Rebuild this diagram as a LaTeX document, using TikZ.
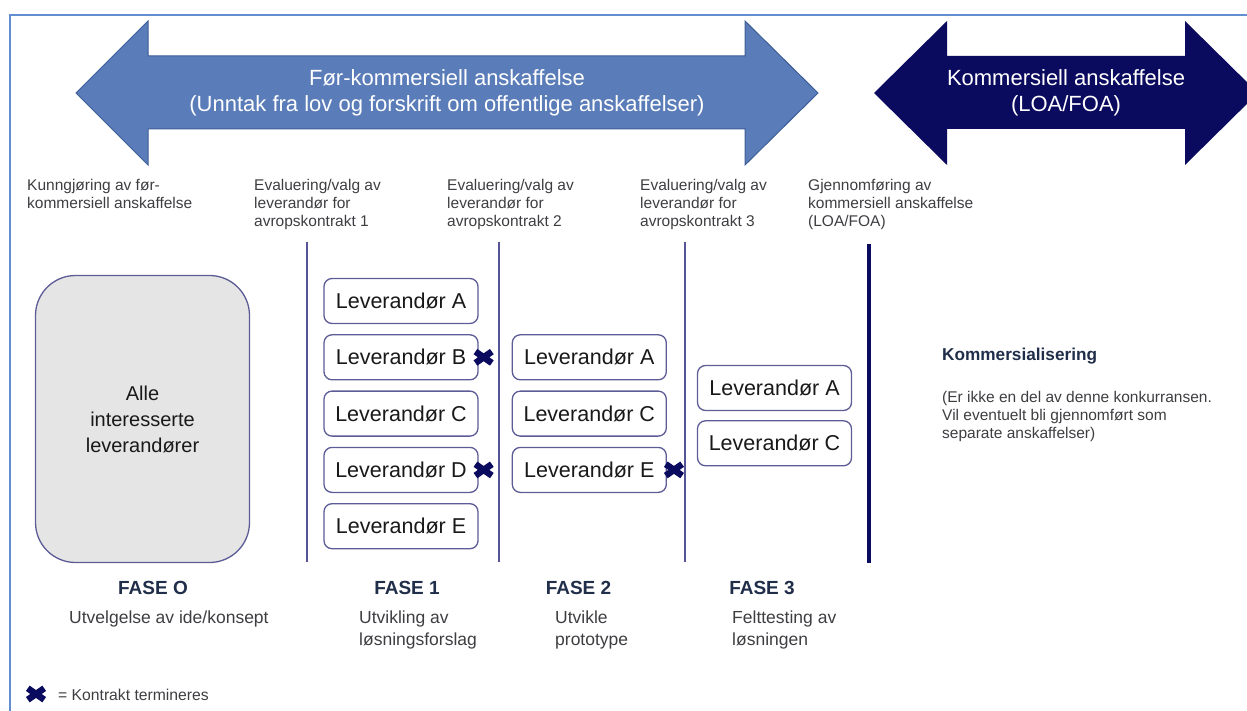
\documentclass[tikz,border=0pt]{standalone}
\usepackage{fontspec}
\setmainfont{Liberation Sans}
\usepackage{tikz}
\usetikzlibrary{positioning}
\definecolor{frameblue}{RGB}{96,142,208}
\definecolor{lightarrow}{RGB}{90,124,184}
\definecolor{lightedge}{RGB}{62,94,152}
\definecolor{navy}{RGB}{10,10,94}
\definecolor{boxedge}{RGB}{92,92,150}
\definecolor{divcol}{RGB}{84,84,150}
\definecolor{headgray}{RGB}{62,62,66}
\definecolor{faseblue}{RGB}{32,46,74}
\tikzstyle{lev} = [rectangle, rounded corners=8pt, draw=boxedge, line width=1.3pt, fill=white, text=black!90, minimum width=154pt, minimum height=45pt, inner sep=0pt, font=\fontsize{21.5}{25}\selectfont]
\tikzstyle{alle} = [rectangle, rounded corners=40pt, draw=boxedge, line width=1.3pt, fill=black!10, text=black!90, minimum width=214pt, minimum height=287pt, align=center, font=\fontsize{20}{26}\selectfont]
\tikzstyle{head} = [anchor=north west, align=left, inner sep=0pt, text=headgray, font=\fontsize{15.5}{18}\selectfont]
\tikzstyle{fase} = [inner sep=0pt, text=faseblue, font=\bfseries\fontsize{19}{22}\selectfont]
\tikzstyle{fasetext} = [anchor=north west, align=left, inner sep=0pt, text=headgray, font=\fontsize{17.5}{22}\selectfont]
\tikzstyle{arrowtext} = [align=center, text=white, font=\fontsize{22}{26}\selectfont]
\tikzstyle{xmark} = [minimum width=16pt, minimum height=11pt, inner sep=0pt]
\tikzstyle{xline} = [draw=navy, line width=6.5pt]
\tikzstyle{divline} = [draw=divcol, line width=1.3pt]
\begin{document}
\begin{tikzpicture}[x=1pt, y=-1pt]

\clip (0,0) rectangle (1247,711);

% frame
\draw[frameblue, line width=2pt] (10,720) -- (10,15) -- (1260,15);

% arrows =============================

\path[fill=lightarrow, draw=lightedge, line width=1pt] (76,93) -- (148,21) -- (148,56) -- (745,56) -- (745,21) -- (818,93)
  -- (745,165) -- (745,129) -- (148,129) -- (148,165) -- cycle;
\node[arrowtext] (pcp) at (447,93) {Før-kommersiell anskaffelse\\(Unntak fra lov og forskrift om offentlige anskaffelser)};

\path[fill=navy] (874,93) -- (947,21) -- (947,56) -- (1185,56) -- (1185,21) -- (1258,93)
  -- (1185,165) -- (1185,129) -- (947,129) -- (947,165) -- cycle;
\node[arrowtext] (kom) at (1066,93) {Kommersiell anskaffelse\\(LOA/FOA)};

% headings
\node[head] (h0) at (27,179) {Kunngjøring av før-\\kommersiell anskaffelse};
\node[head] (h1) at (254,179) {Evaluering/valg av\\leverandør for\\avropskontrakt 1};
\node[head] (h2) at (447,179) {Evaluering/valg av\\leverandør for\\avropskontrakt 2};
\node[head] (h3) at (640,179) {Evaluering/valg av\\leverandør for\\avropskontrakt 3};
\node[head] (h4) at (808,179) {Gjennomføring av\\kommersiell anskaffelse\\(LOA/FOA)};

% dividers
\draw[divline] (307,242) -- (307,562);
\draw[divline] (499,242) -- (499,562);
\draw[divline] (685,242) -- (685,562);
\draw[navy, line width=4.5pt] (869,244) -- (869,563);

% fase 0
\node[alle] (alle) at (142.5,419) {Alle\\interesserte\\leverandører};

% fase 1
\node[lev] (levA1) at (401,301) {Leverandør A};
\node[lev, below=10pt of levA1] (levB1) {Leverandør B};
\node[lev, below=10pt of levB1] (levC1) {Leverandør C};
\node[lev, below=10pt of levC1] (levD1) {Leverandør D};
\node[lev, below=10pt of levD1] (levE1) {Leverandør E};

% fase 2
\node[lev, right=33pt of levB1] (levA2) {Leverandør A};
\node[lev, below=10pt of levA2] (levC2) {Leverandør C};
\node[lev, below=10pt of levC2] (levE2) {Leverandør E};

% fase 3
\node[lev] (levA3) at (774.5,388) {Leverandør A};
\node[lev, below=9pt of levA3] (levC3) {Leverandør C};

% terminated contracts
\node[xmark] (xB1) at ([xshift=5pt]levB1.east) {};
\node[xmark] (xD1) at ([xshift=5pt]levD1.east) {};
\node[xmark] (xE2) at ([xshift=7pt]levE2.east) {};
\node[xmark] (xkey) at (36,694) {};
\foreach \m in {xB1,xD1,xE2,xkey}
  \draw[xline] (\m.north west) -- (\m.south east) (\m.north east) -- (\m.south west);

% phase labels
\node[fase] (f0) at (153,588) {FASE O};
\node[fase] (f1) at (407,588) {FASE 1};
\node[fase] (f2) at (578.5,588) {FASE 2};
\node[fase] (f3) at (762,588) {FASE 3};
\node[fasetext] (t0) at (69,611) {Utvelgelse av ide/konsept};
\node[fasetext] (t1) at (359,611) {Utvikling av\\løsningsforslag};
\node[fasetext] (t2) at (555,611) {Utvikle\\prototype};
\node[fasetext] (t3) at (732,611) {Felttesting av\\løsningen};

% kommersialisering
\node[anchor=base west, inner sep=0pt, text=faseblue, font=\bfseries\fontsize{17.2}{20}\selectfont] (komm) at (942,360) {Kommersialisering};
\node[head] (kommtxt) at (942,391.3) {(Er ikke en del av denne konkurransen.\\Vil eventuelt bli gjennomført som\\separate anskaffelser)};

% legend
\node[anchor=base west, inner sep=0pt, text=headgray, font=\fontsize{15.7}{18}\selectfont] (key) at (58,700.4) {= Kontrakt termineres};

\end{tikzpicture}
\end{document}
